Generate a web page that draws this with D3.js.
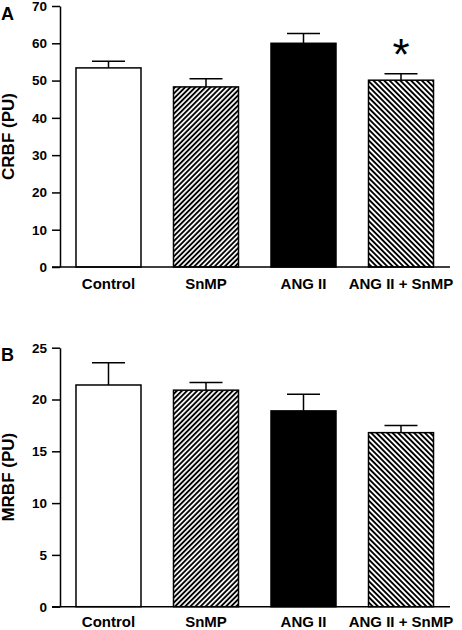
<!DOCTYPE html>
<html><head><meta charset="utf-8">
<script src="https://cdn.jsdelivr.net/npm/d3@7"></script>
<style>
html,body{margin:0;padding:0;background:#fff;}
svg{display:block;font-family:"Liberation Sans",Arial,sans-serif;font-weight:bold;}
</style></head>
<body>
<script>
const categories = ["Control", "SnMP", "ANG II", "ANG II + SnMP"];
const crbfValues = [53.4, 48.3, 60.0, 50.1];
const crbfErrors = [1.8, 2.2, 2.6, 1.7];
const mrbfValues = [21.4, 20.9, 18.9, 16.8];
const mrbfErrors = [2.15, 0.75, 1.6, 0.7];
const crbfTicks = [0, 10, 20, 30, 40, 50, 60, 70];
const mrbfTicks = [0, 5, 10, 15, 20, 25];
const fills = ["white", "url(#hatchUp)", "black", "url(#hatchDown)"];
const significant = [false, false, false, true];

const W = 462, H = 630;
const svg = d3.select("body").append("svg").attr("width", W).attr("height", H);
const defs = svg.append("defs");
function hatch(id, angle, period) {
  const p = defs.append("pattern").attr("id", id).attr("patternUnits", "userSpaceOnUse")
    .attr("width", period).attr("height", period)
    .attr("patternTransform", `rotate(${angle})`);
  p.append("rect").attr("width", period).attr("height", period).attr("fill", "white");
  p.append("line").attr("x1", 0).attr("y1", period / 2).attr("x2", period).attr("y2", period / 2)
    .attr("stroke", "black").attr("stroke-width", 1.9);
}
hatch("hatchUp", -45, 3.6);
hatch("hatchDown", 45, 3.8);

const x = d3.scaleBand().domain(categories).range([60, 449.5]).paddingInner(1 / 3).paddingOuter(0.164);

function panel(letter, title, values, errors, ticks, y0, y1, maxV, stars, labelGap) {
  const y = d3.scaleLinear().domain([0, maxV]).range([y0, y1]);
  const g = svg.append("g");
  g.selectAll("rect.bar").data(categories).join("rect").attr("class", "bar")
    .attr("x", d => x(d)).attr("width", x.bandwidth())
    .attr("y", (d, i) => y(values[i])).attr("height", (d, i) => y(0) - y(values[i]))
    .attr("fill", (d, i) => fills[i]).attr("stroke", "black").attr("stroke-width", 1.5);
  const cap = 33;
  categories.forEach((c, i) => {
    const cx = x(c) + x.bandwidth() / 2;
    g.append("line").attr("x1", cx).attr("x2", cx).attr("y1", y(values[i])).attr("y2", y(values[i] + errors[i]))
      .attr("stroke", "black").attr("stroke-width", 1.5);
    g.append("line").attr("x1", cx - cap / 2).attr("x2", cx + cap / 2)
      .attr("y1", y(values[i] + errors[i])).attr("y2", y(values[i] + errors[i]))
      .attr("stroke", "black").attr("stroke-width", 1.5);
    if (stars && stars[i]) {
      g.append("text").attr("x", cx).attr("y", y(values[i] + errors[i]) - 4)
        .attr("text-anchor", "middle").attr("font-size", 44).attr("font-weight", "normal")
        .text("*");
    }
  });
  const ax = g.append("g").attr("transform", "translate(60,0)")
    .call(d3.axisLeft(y).tickValues(ticks).tickSize(8).tickPadding(5).tickSizeOuter(0));
  ax.select(".domain").attr("stroke-width", 1.5);
  ax.selectAll(".tick line").attr("stroke-width", 1.5);
  ax.selectAll("text").attr("font-size", 13.5).attr("font-family", "Liberation Sans, Arial, sans-serif").attr("font-weight", "bold");
  g.append("line").attr("x1", 52).attr("x2", 450).attr("y1", y(0)).attr("y2", y(0))
    .attr("stroke", "black").attr("stroke-width", 1.5);
  g.selectAll("text.cat").data(categories).join("text").attr("class", "cat")
    .attr("x", d => x(d) + x.bandwidth() / 2).attr("y", y(0) + labelGap)
    .attr("text-anchor", "middle").attr("font-size", 15).text(d => d);
  g.append("text").attr("transform", `translate(14,${(y0 + y1) / 2}) rotate(-90)`)
    .attr("text-anchor", "middle").attr("font-size", 17).text(title);
  g.append("text").attr("x", 1).attr("y", y1 + 13.5).attr("font-size", 18).text(letter);
}

panel("A", "CRBF (PU)", crbfValues, crbfErrors, crbfTicks, 267, 6, 70, significant, 22);
panel("B", "MRBF (PU)", mrbfValues, mrbfErrors, mrbfTicks, 606.7, 347.7, 25, null, 20.5);
</script>
</body></html>
